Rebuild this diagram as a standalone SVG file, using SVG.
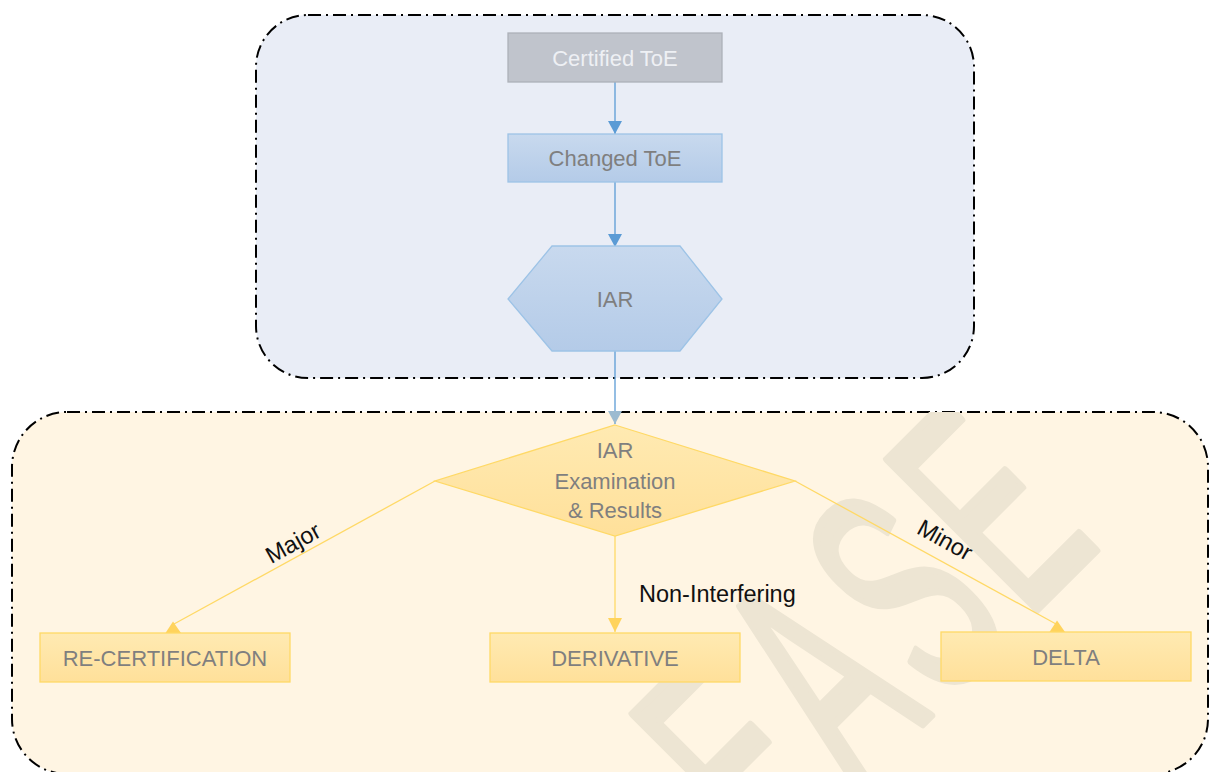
<svg xmlns="http://www.w3.org/2000/svg" width="1210" height="772" viewBox="0 0 1210 772">
  <style>
    .container { stroke: #000; stroke-width: 2; stroke-dasharray: 13 5 2 5; }
    .ntext { font-family: "Liberation Sans", Arial, sans-serif; font-size: 22px; fill: #7f7f7f; text-anchor: middle; dominant-baseline: central; }
    .label { font-family: "Liberation Sans", Arial, sans-serif; font-size: 23.5px; fill: #111; }
    .yellow { fill: url(#gYellow); stroke: #ffd966; stroke-width: 1.3; }
    .blue { fill: url(#gBlue); stroke: #9dc3e6; stroke-width: 1.3; }
    .bline { stroke: #5b9bd5; stroke-width: 1.3; fill: none; }
    .yline { stroke: #ffd966; stroke-width: 1.3; fill: none; }
    .yhead { fill: #ffd35c; }
    .wm { font-family: "Liberation Sans", Arial, sans-serif; font-size: 307px; fill: #ede5d3; stroke: #ede5d3; stroke-width: 7; stroke-linejoin: round; }
  </style>
  <defs>
    <linearGradient id="gYellow" x1="0" y1="0" x2="0" y2="1">
      <stop offset="0" stop-color="#ffeab2"/>
      <stop offset="1" stop-color="#ffe09a"/>
    </linearGradient>
    <linearGradient id="gBlue" x1="0" y1="0" x2="0" y2="1">
      <stop offset="0" stop-color="#c8d9ee"/>
      <stop offset="1" stop-color="#b4cbe8"/>
    </linearGradient>
    <marker id="arrBlue" markerUnits="userSpaceOnUse" markerWidth="14" markerHeight="14" viewBox="0 0 12 13" refX="12" refY="6.5" orient="auto">
      <path d="M0,0 L12,6.5 L0,13 Z" fill="#5b9bd5"/>
    </marker>
    <marker id="arrBlueLight" markerUnits="userSpaceOnUse" markerWidth="14" markerHeight="14" viewBox="0 0 12 13" refX="12" refY="6.5" orient="auto">
      <path d="M0,0 L12,6.5 L0,13 Z" fill="#9dbbd0"/>
    </marker>
    <marker id="arrYellow" markerUnits="userSpaceOnUse" markerWidth="14" markerHeight="14" viewBox="0 0 13 13" refX="13" refY="6.5" orient="auto">
      <path d="M0,0 L13,6.5 L0,13 Z" fill="#ffd35c"/>
    </marker>
    <clipPath id="clipBottom">
      <rect x="12" y="412" width="1196" height="362" rx="55" ry="55"/>
    </clipPath>
  </defs>

  <rect width="1210" height="772" fill="#ffffff"/>

  <g id="container-top">
    <rect class="container" x="256" y="15" width="718" height="363" rx="52" ry="52" fill="#e9edf6"/>
  </g>

  <g id="container-bottom">
    <rect class="container" x="12" y="412" width="1196" height="362" rx="55" ry="55" fill="#fff5e3"/>
    <g clip-path="url(#clipBottom)">
      <text class="wm" transform="translate(772,874) rotate(-45) scale(0.52,1)" letter-spacing="26" vector-effect="non-scaling-stroke">EASE</text>
    </g>
  </g>

  <g id="connectors">
    <line class="bline" x1="615" y1="82" x2="615" y2="134" marker-end="url(#arrBlue)"/>
    <line class="bline" x1="615" y1="182" x2="615" y2="247" marker-end="url(#arrBlue)"/>
    <line class="bline" x1="615" y1="351" x2="615" y2="424" marker-end="url(#arrBlueLight)"/>
    <line class="yline" x1="615" y1="536" x2="615" y2="632" marker-end="url(#arrYellow)"/>
    <line class="yline" x1="435" y1="481" x2="174" y2="624"/>
    <polygon class="yhead" points="173,621.5 165.5,633 181,633"/>
    <line class="yline" x1="795" y1="481" x2="1056" y2="624"/>
    <polygon class="yhead" points="1057,620.5 1049.5,632 1065,632"/>
    <text class="label" transform="translate(293,543) rotate(-29)" text-anchor="middle" dominant-baseline="central">Major</text>
    <text class="label" transform="translate(945,540) rotate(29)" text-anchor="middle" dominant-baseline="central">Minor</text>
    <text class="label" x="639" y="602">Non-Interfering</text>
  </g>

  <g id="node-certified">
    <rect x="508" y="33" width="214" height="49" fill="#c0c4cc" stroke="#adb1b9" stroke-width="1.3"/>
    <text class="ntext" x="615" y="58" style="fill:#eef0f4">Certified ToE</text>
  </g>

  <g id="node-changed">
    <rect class="blue" x="508" y="134" width="214" height="48"/>
    <text class="ntext" x="615" y="158">Changed ToE</text>
  </g>

  <g id="node-iar">
    <polygon class="blue" points="552,246 680,246 722,299 680,351 552,351 508,299"/>
    <text class="ntext" x="615" y="299">IAR</text>
  </g>

  <g id="node-examination">
    <polygon class="yellow" points="615,425 795,481 615,536 435,481"/>
    <text class="ntext" x="615" y="450">IAR</text>
    <text class="ntext" x="615" y="481">Examination</text>
    <text class="ntext" x="615" y="510">&amp; Results</text>
  </g>

  <g id="node-recertification">
    <rect class="yellow" x="40" y="633" width="250" height="49"/>
    <text class="ntext" x="165" y="658">RE-CERTIFICATION</text>
  </g>

  <g id="node-derivative">
    <rect class="yellow" x="490" y="633" width="250" height="49"/>
    <text class="ntext" x="615" y="658">DERIVATIVE</text>
  </g>

  <g id="node-delta">
    <rect class="yellow" x="941" y="632" width="250" height="49"/>
    <text class="ntext" x="1066" y="657">DELTA</text>
  </g>
</svg>
